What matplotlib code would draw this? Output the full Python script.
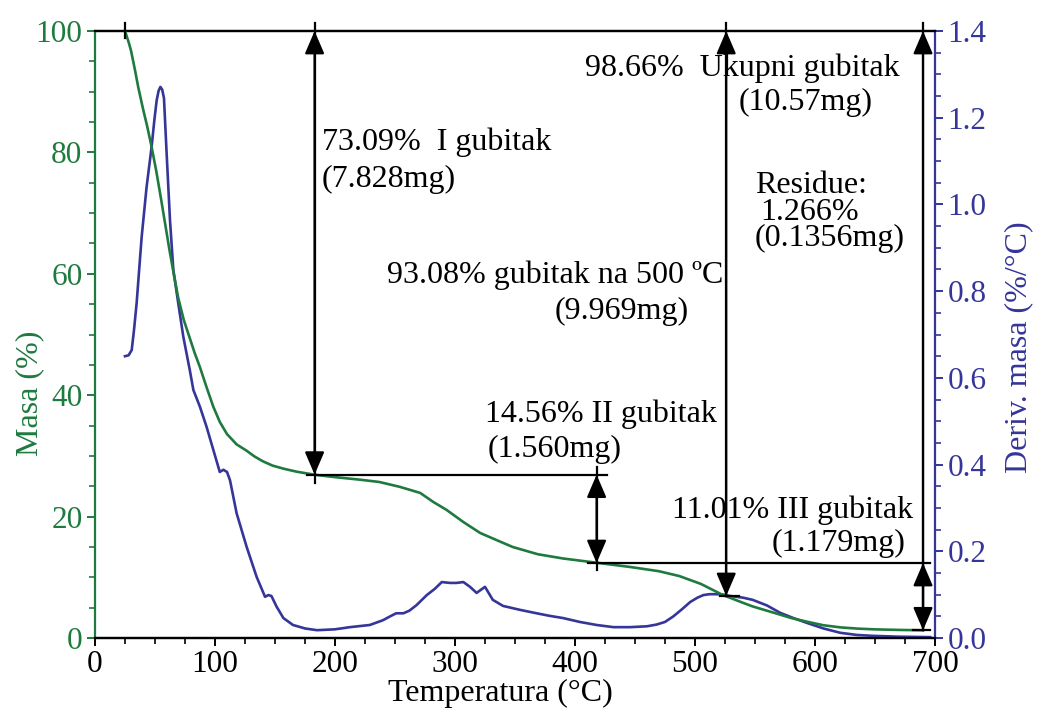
import matplotlib
matplotlib.use("Agg")
import matplotlib.pyplot as plt
from matplotlib.ticker import MultipleLocator

plt.rcParams["font.family"] = ["Liberation Serif", "DejaVu Serif"]

GREEN = "#1f7a3f"
BLUE = "#35359a"

# TGA curve (mass %)
tga_t = [25, 28, 30, 33.3, 36, 40, 43.5, 47, 51, 55, 58.5, 62, 66, 69.4, 74, 79,
         83, 87.5, 93, 98.6, 104, 110, 118, 126, 133, 140, 148, 157, 168, 183,
         200, 220, 237, 254, 271, 282, 293, 307, 321, 335, 348, 369, 390, 418,
         446, 470, 487, 505, 523, 536, 548, 565, 580, 593, 607, 621, 635, 650,
         670, 690]
tga_m = [100, 98.2, 96.8, 93.6, 90.8, 87.2, 84.3, 81.1, 77.0, 72.4, 68.2, 64.0,
         59.6, 56.0, 52.4, 49.4, 47.0, 44.6, 41.3, 38.1, 35.6, 33.6, 31.9, 30.9,
         29.9, 29.1, 28.4, 27.9, 27.4, 26.9, 26.5, 26.1, 25.7, 24.9, 23.9, 22.4,
         21.1, 19.1, 17.3, 16.1, 15.0, 13.8, 13.1, 12.4, 11.7, 11.0, 10.2, 8.9,
         7.1, 6.1, 5.2, 4.2, 3.3, 2.7, 2.1, 1.75, 1.55, 1.42, 1.33, 1.27]

# DTG curve (%/°C)
dtg_t = [25, 28, 30.6, 32.5, 34.7, 38.9, 43, 47.2, 49.5, 51.4, 53, 54.5, 56,
         57.5, 59.7, 62.5, 65.3, 69.4, 73.6, 79, 82, 87.5, 93, 98.6, 104, 107,
         110, 112.5, 118, 126.4, 134.7, 141.7, 144.5, 147, 151.4, 157, 165, 175,
         185, 200, 212.5, 229, 240, 246, 251, 257, 262, 268, 276.5, 283, 289,
         296, 301, 307, 312.5, 318, 322, 325, 331.5, 340, 354, 368, 379, 390,
         404, 418, 432, 446, 460, 468, 475, 482, 489, 496, 502, 507, 512, 518,
         524, 529, 540, 548, 560, 571, 582, 593, 607, 621, 635, 648, 670, 696]
dtg_v = [0.650, 0.652, 0.664, 0.71, 0.772, 0.925, 1.04, 1.133, 1.195, 1.240,
         1.262, 1.271, 1.265, 1.245, 1.118, 0.964, 0.849, 0.772, 0.695, 0.618,
         0.572, 0.533, 0.487, 0.434, 0.383, 0.388, 0.383, 0.364, 0.288, 0.21,
         0.141, 0.095, 0.099, 0.097, 0.072, 0.046, 0.03, 0.022, 0.018, 0.02,
         0.025, 0.030, 0.041, 0.050, 0.057, 0.057, 0.063, 0.076, 0.099, 0.113,
         0.129, 0.127, 0.127, 0.129, 0.118, 0.104, 0.112, 0.118, 0.088, 0.074,
         0.065, 0.057, 0.051, 0.046, 0.037, 0.030, 0.025, 0.025, 0.027, 0.031,
         0.037, 0.050, 0.066, 0.083, 0.093, 0.099, 0.101, 0.101, 0.100, 0.097,
         0.093, 0.088, 0.075, 0.058, 0.046, 0.035, 0.022, 0.012, 0.007, 0.005,
         0.003, 0.002]

# mass-loss levels (%) and the temperatures where the measure arrows stand
level_start = 100.0
level_1 = 26.91
level_2 = 12.35
level_500 = 6.92
residue = 1.266
x_start, x_1, x_2, x_500, x_end = 25, 183, 418, 526, 690

labels = [
    ("73.09%  I gubitak", 189, 81.7),
    ("(7.828mg)", 189, 75.6),
    ("98.66%  Ukupni gubitak", 408, 93.9),
    ("(10.57mg)", 536, 88.2),
    ("Residue:", 550, 74.6),
    ("1.266%", 554, 70.1),
    ("(0.1356mg)", 550, 65.9),
    ("93.08% gubitak na 500 ºC", 243, 59.8),
    ("(9.969mg)", 383, 53.8),
    ("14.56% II gubitak", 325, 36.9),
    ("(1.560mg)", 327, 31.0),
    ("11.01% III gubitak", 481, 21.1),
    ("(1.179mg)", 564, 15.6),
]

fig = plt.figure(figsize=(10.38, 7.13), dpi=100)
ax = fig.add_axes([0.0915, 0.1052, 0.8093, 0.8513])
ax2 = ax.twinx()

ax.plot(tga_t, tga_m, color=GREEN, lw=1.9, zorder=3)
ax2.plot(dtg_t, dtg_v, color=BLUE, lw=1.9, zorder=3)

ax.set_xlim(0, 700)
ax.set_ylim(0, 100)
ax2.set_ylim(0, 1.4)

ax.xaxis.set_major_locator(MultipleLocator(100))
ax.xaxis.set_minor_locator(MultipleLocator(25))
ax.yaxis.set_major_locator(MultipleLocator(20))
ax.yaxis.set_minor_locator(MultipleLocator(5))
ax2.yaxis.set_major_locator(MultipleLocator(0.2))
ax2.yaxis.set_minor_locator(MultipleLocator(0.05))
ax2.yaxis.set_major_formatter(plt.FuncFormatter(lambda v, p: f"{v:.1f}"))

for a in (ax, ax2):
    for s in a.spines.values():
        s.set_linewidth(1.6)
ax.spines["left"].set_color(GREEN)
ax.spines["right"].set_visible(False)
ax2.spines["left"].set_visible(False)
ax2.spines["right"].set_color(BLUE)

ax.tick_params(axis="x", which="major", direction="out", length=6, width=1.4,
               labelsize=22.5, colors="black", pad=3)
ax.tick_params(axis="x", which="minor", direction="out", length=4, width=1.2)
ax.tick_params(axis="y", which="major", direction="out", length=6, width=1.4,
               labelsize=22.5, colors=GREEN, pad=3)
ax.tick_params(axis="y", which="minor", direction="out", length=4, width=1.2,
               colors=GREEN)
ax2.tick_params(axis="y", which="major", direction="out", length=6, width=1.4,
                labelsize=22.5, colors=BLUE, pad=3)
ax2.tick_params(axis="y", which="minor", direction="out", length=4, width=1.2,
                colors=BLUE)

ax.set_zorder(ax2.get_zorder() + 1)
ax.patch.set_visible(False)

# measurement lines
k = dict(color="black", lw=1.6, clip_on=False, zorder=4)
ax.plot([x_start, x_start], [98.8, 101.4], **k)
ax.plot([x_1 - 6, 427], [level_1, level_1], **k)
ax.plot([x_2 - 7, 696], [level_2, level_2], **k)
ax.plot([x_500 - 5, x_500 + 11], [level_500, level_500], **k)
ax.plot([x_end - 8, 696], [residue, residue], **k)
ax.plot([x_1, x_1], [level_1 - 1.4, 101.4], **k)
ax.plot([x_2, x_2], [level_2 - 1.2, level_1 + 1.2], **k)
ax.plot([x_500, x_500], [level_500, 101.4], **k)
ax.plot([x_end, x_end], [residue, 101.4], **k)


def arrow(x, y0, y1, style):
    ax.annotate("", xy=(x, y1), xytext=(x, y0),
                arrowprops=dict(arrowstyle=style + ",head_length=0.7,head_width=0.3",
                                color="black", lw=1.6, shrinkA=0, shrinkB=0,
                                mutation_scale=20),
                annotation_clip=False, zorder=5)


arrow(x_1, level_1, level_start, "<|-|>")
arrow(x_2, level_2, level_1, "<|-|>")
arrow(x_500, level_500, level_start, "<|-|>")
arrow(x_end, residue, level_start, "<|-|>")
arrow(x_end, residue, level_2, "-|>")

for txt, tx, ty in labels:
    ax.text(tx, ty, txt, fontsize=23, ha="left", va="center", zorder=2)

fig.text(0.029, 0.449, "Masa (%)", color=GREEN, fontsize=23, rotation=90,
         ha="center", va="center")
fig.text(0.482, 0.028, "Temperatura (°C)", color="black", fontsize=23,
         ha="center", va="center")
fig.text(0.981, 0.513, "Deriv. masa (%/°C)", color=BLUE, fontsize=23,
         rotation=90, ha="center", va="center")

fig.savefig("out.png", dpi=100)
